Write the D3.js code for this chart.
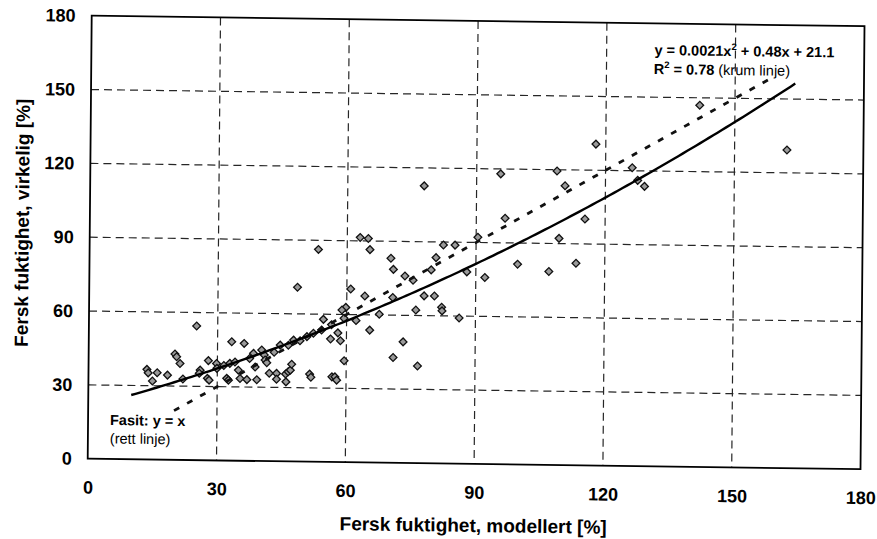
<!DOCTYPE html>
<html>
<head>
<meta charset="utf-8">
<script src="https://cdn.jsdelivr.net/npm/d3@7"></script>
<style>
  html, body { margin: 0; padding: 0; background: #fff; }
  svg { display: block; }
  text { font-family: "Liberation Sans", Arial, sans-serif; fill: #000; }
</style>
</head>
<body>
<svg id="chart" width="877" height="539"></svg>
<script>
// Modelled fresh moisture content [%]
const modellert = [
  13.6, 13.9, 14.9, 16.0, 18.4, 20.1, 20.5, 21.3, 22.0, 25.1,
  26.0, 25.8, 27.9, 27.7, 28.1, 29.8, 29.9, 32.2, 32.6, 33.3,
  36.2, 32.9, 34.1, 34.9, 35.3, 36.9, 38.4, 38.8, 39.2, 40.3,
  40.9, 41.1, 41.5, 42.1, 43.8, 43.8, 44.6, 45.9, 46.5, 47.0,
  47.3, 46.0, 46.5, 47.7, 49.2, 48.5, 50.8, 51.5, 51.8, 52.3,
  53.3, 54.6, 56.3, 58.0, 58.6, 56.7, 57.4, 57.8, 59.5, 59.8,
  59.4, 58.9, 60.9, 62.2, 63.0, 64.9, 65.3, 64.2, 65.4, 67.6,
  70.2, 70.8, 70.7, 70.9, 73.2, 73.5, 75.4, 76.1, 76.6, 78.0,
  77.8, 79.6, 80.4, 80.7, 82.4, 85.1, 82.1, 82.2, 86.2, 87.9,
  90.4, 92.1, 95.6, 96.7, 99.7, 107.0, 108.7, 109.3, 110.6, 113.3,
  115.3, 117.7, 126.2, 127.5, 129.1, 141.8, 162.2, 54.2, 56.5, 31.5,
  37.5, 43.2
];
// Measured fresh moisture content [%]
const virkelig = [
  36.6, 35.2, 31.9, 35.3, 34.4, 43.0, 41.9, 39.2, 32.9, 54.5,
  36.6, 35.3, 40.5, 33.3, 32.6, 39.4, 37.4, 33.4, 32.7, 48.3,
  47.7, 39.5, 40.1, 36.8, 33.4, 33.0, 43.7, 38.2, 33.0, 45.1,
  43.1, 41.1, 40.0, 35.7, 35.7, 33.3, 47.2, 35.5, 36.4, 37.1,
  39.5, 32.3, 47.2, 49.3, 49.1, 70.8, 50.8, 35.6, 34.3, 52.2,
  86.3, 57.9, 50.0, 52.5, 49.3, 34.6, 34.6, 33.3, 41.2, 62.9,
  58.5, 61.8, 70.4, 57.6, 91.4, 91.0, 86.5, 67.6, 53.8, 60.3,
  83.1, 78.6, 67.2, 42.8, 49.2, 76.0, 74.3, 62.2, 39.5, 68.0,
  112.7, 78.6, 68.0, 83.6, 88.8, 88.8, 63.5, 62.0, 59.2, 78.0,
  92.1, 75.8, 118.0, 100.0, 81.4, 78.6, 119.5, 92.1, 113.5, 82.1,
  100.1, 130.6, 121.2, 116.1, 113.7, 147.0, 129.3, 53.6, 55.8, 38.6,
  41.6, 44.3
];

const xTicks = [0, 30, 60, 90, 120, 150, 180];
const yTicks = [0, 30, 60, 90, 120, 150, 180];

// Second-order trendline y = a x^2 + b x + c and its drawn x-range
const trendCoef = [0.0021, 0.48, 21.1];
const trendRange = [10, 164];
// Reference line y = x
const fasitRange = [20, 158];

const W = 772.8, H = 443;

const svg = d3.select("#chart");
// whole figure sits slightly tilted, as on the printed page
const g = svg.append("g")
  .attr("transform", "translate(91.7,15.7) matrix(1,0.0136,-0.009,1,0,0)");

const x = d3.scaleLinear().domain([0, 180]).range([0, W]);
const y = d3.scaleLinear().domain([0, 180]).range([H, 0]);

// dashed gridlines
const grid = g.append("g").attr("stroke", "#262626").attr("stroke-width", 1.2)
  .attr("stroke-dasharray", "8,5").attr("fill", "none");
grid.selectAll("line.v").data(xTicks.slice(1, -1)).join("line")
  .attr("class", "v")
  .attr("x1", d => x(d)).attr("x2", d => x(d))
  .attr("y1", 0).attr("y2", H);
grid.selectAll("line.h").data(yTicks.slice(1, -1)).join("line")
  .attr("class", "h")
  .attr("x1", 0).attr("x2", W)
  .attr("y1", d => y(d)).attr("y2", d => y(d));

// plot frame
g.append("rect").attr("x", 0).attr("y", 0).attr("width", W).attr("height", H)
  .attr("fill", "none").attr("stroke", "#000").attr("stroke-width", 1.8);

// axes (labels only)
const xAxis = g.append("g").attr("transform", `translate(0,${H})`)
  .call(d3.axisBottom(x).tickValues(xTicks).tickSize(0).tickPadding(22));
const yAxis = g.append("g")
  .call(d3.axisLeft(y).tickValues(yTicks).tickSize(0).tickPadding(16));
[xAxis, yAxis].forEach(a => {
  a.select(".domain").remove();
  a.selectAll("text").attr("font-size", 18).attr("font-weight", "bold")
    .attr("font-family", "'Liberation Sans', Arial, sans-serif").attr("fill", "#000");
});

// axis titles
g.append("text").attr("x", 386).attr("y", H + 68)
  .attr("text-anchor", "middle").attr("font-size", 19).attr("font-weight", "bold")
  .text("Fersk fuktighet, modellert [%]");
g.append("text").attr("transform", "translate(-61,208) rotate(-90)")
  .attr("text-anchor", "middle").attr("font-size", 19).attr("font-weight", "bold")
  .text("Fersk fuktighet, virkelig [%]");

// data points
const pts = modellert.map((m, i) => ({ m, v: virkelig[i] }));
const diamond = d3.symbol().type(d3.symbolSquare).size(30);
g.append("g").selectAll("path").data(pts).join("path")
  .attr("d", diamond)
  .attr("transform", d => `translate(${x(d.m)},${y(d.v)}) rotate(45)`)
  .attr("fill", "#9a9a9a").attr("stroke", "#111").attr("stroke-width", 1.3);

// y = x reference line
g.append("path")
  .attr("d", d3.line().x(d => x(d)).y(d => y(d))(fasitRange))
  .attr("fill", "none").attr("stroke", "#111").attr("stroke-width", 2.8)
  .attr("stroke-dasharray", "6,9");

// polynomial trendline
const [a2, b1, c0] = trendCoef;
const trendX = d3.range(trendRange[0], trendRange[1] + 0.001, 1);
g.append("path")
  .attr("d", d3.line().x(d => x(d)).y(d => y(a2 * d * d + b1 * d + c0)).curve(d3.curveLinear)(trendX))
  .attr("fill", "none").attr("stroke", "#000").attr("stroke-width", 2.4);

// annotations
const eq = g.append("text").attr("x", 563).attr("y", 31.6)
  .attr("font-size", 14.5).attr("font-weight", "bold");
eq.append("tspan").text("y = 0.0021x");
eq.append("tspan").attr("dy", -6).attr("font-size", 9.5).text("2");
eq.append("tspan").attr("dy", 6).text(" + 0.48x + 21.1");

const r2 = g.append("text").attr("x", 562.5).attr("y", 50.6).attr("font-size", 14.5);
r2.append("tspan").attr("font-weight", "bold").text("R");
r2.append("tspan").attr("font-weight", "bold").attr("dy", -6).attr("font-size", 9.5).text("2");
r2.append("tspan").attr("font-weight", "bold").attr("dy", 6).text(" = 0.78");
r2.append("tspan").text(" (krum linje)");

g.append("text").attr("x", 22).attr("y", 409)
  .attr("font-size", 14.5).attr("font-weight", "bold").text("Fasit: y = x");
g.append("text").attr("x", 22).attr("y", 427.4)
  .attr("font-size", 14.5).text("(rett linje)");
</script>
</body>
</html>
